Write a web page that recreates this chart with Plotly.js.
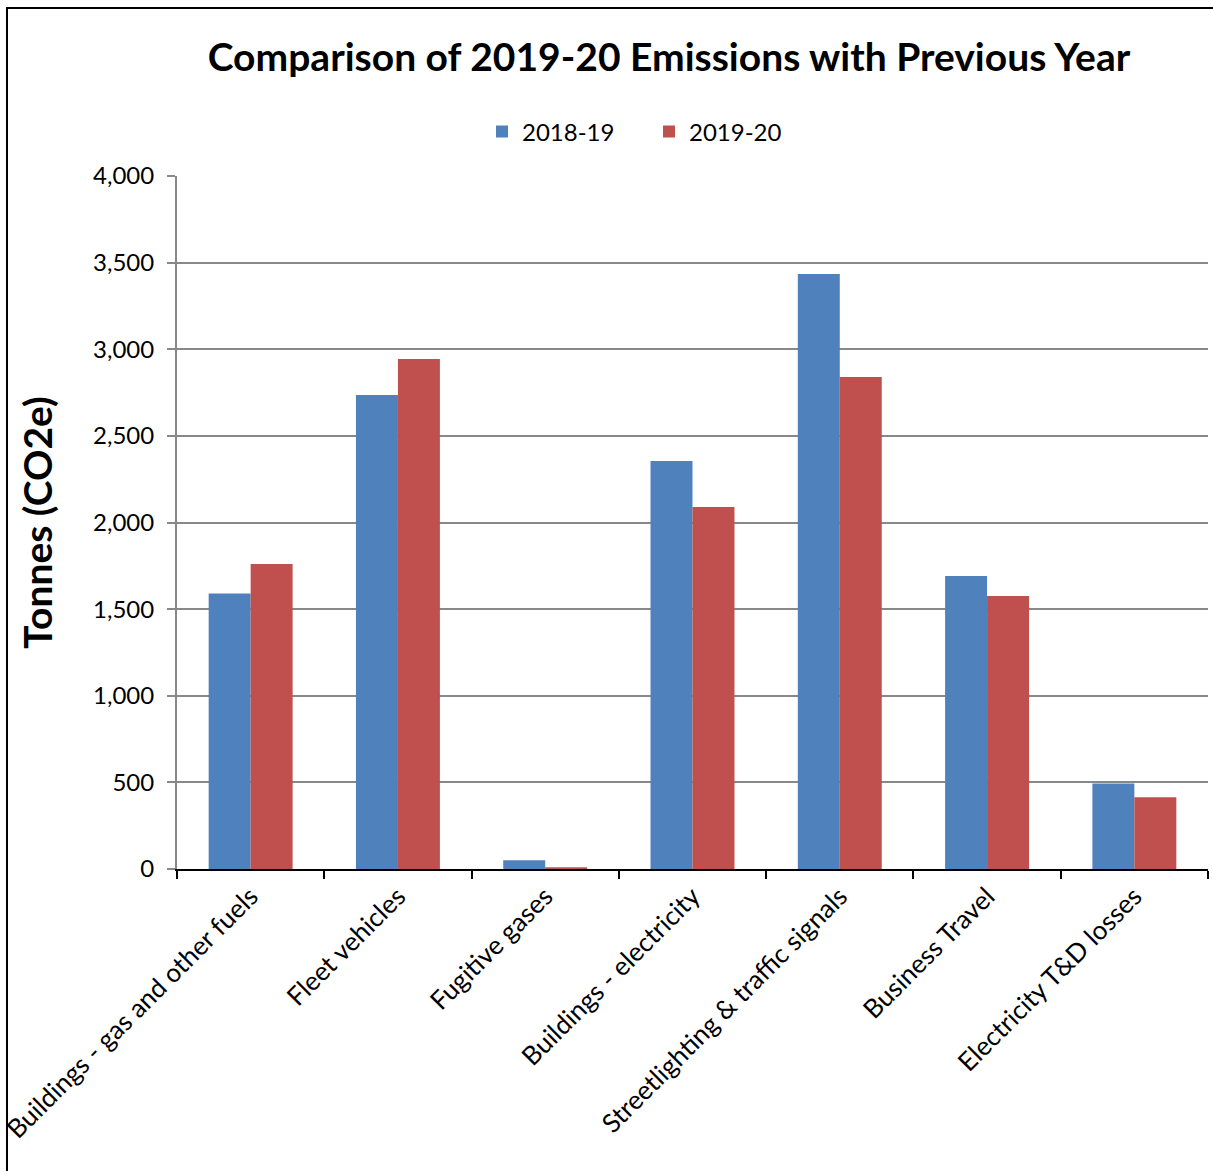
<!DOCTYPE html>
<html>
<head>
<meta charset="utf-8">
<script src="https://cdn.plot.ly/plotly-3.0.1.min.js"></script>
<style>html,body{margin:0;padding:0;background:#fff;}#chart{width:1213px;height:1171px;}</style>
</head>
<body>
<div id="chart"></div>
<script>
const categories = [
  "Buildings - gas and other fuels",
  "Fleet vehicles",
  "Fugitive gases",
  "Buildings - electricity",
  "Streetlighting & traffic signals",
  "Business Travel",
  "Electricity T&D losses"
];
const values2018_19 = [1590, 2736, 50, 2355, 3434, 1691, 494];
const values2019_20 = [1760, 2944, 10, 2089, 2840, 1576, 414];
const seriesNames = ["2018-19", "2019-20"];
const yTickValues = [0, 500, 1000, 1500, 2000, 2500, 3000, 3500, 4000];
const yTickLabels = ["0", "500", "1,000", "1,500", "2,000", "2,500", "3,000", "3,500", "4,000"];

const FONT = "Lato, 'Open Sans', sans-serif";

const data = [
  {type: "bar", name: seriesNames[0], x: categories, y: values2018_19,
   marker: {color: "#4F81BD", line: {width: 0}}},
  {type: "bar", name: seriesNames[1], x: categories, y: values2019_20,
   marker: {color: "#C0504D", line: {width: 0}}}
];

const plotL = 177, plotR = 1208, plotT = 176, plotB = 869, W = 1213, H = 1171;
const pw = plotR - plotL, ph = plotB - plotT;
const px = v => (v - plotL) / pw;
const py = v => (plotB - v) / ph;

const layout = {
  width: W, height: H,
  margin: {l: plotL, r: W - plotR, t: plotT, b: H - plotB, pad: 0},
  paper_bgcolor: "#fff", plot_bgcolor: "#fff",
  font: {family: FONT, size: 20, color: "#000"},
  title: {text: "<b>Comparison of 2019-20 Emissions with Previous Year</b>",
          font: {family: FONT, size: 39, color: "#000"},
          xref: "paper", x: px(669), xanchor: "center",
          yref: "container", y: 1 - 57 / H, yanchor: "middle"},
  barmode: "group", bargap: 0.43, bargroupgap: 0,
  showlegend: true,
  legend: {orientation: "h", x: px(649), xanchor: "center", y: py(132), yanchor: "middle",
           font: {family: FONT, size: 24, color: "#000"}, itemwidth: 30, entrywidth: 122,
           traceorder: "normal"},
  xaxis: {type: "category", showline: true, linecolor: "#000", linewidth: 2,
          ticks: "outside", tickson: "boundaries", ticklen: 8, tickwidth: 2, tickcolor: "#000",
          tickangle: -45, tickfont: {family: FONT, size: 26, color: "#000"},
          showgrid: false, automargin: false},
  yaxis: {range: [0, 4000], tickvals: yTickValues, ticktext: yTickLabels,
          showline: true, linecolor: "#888", linewidth: 2,
          ticks: "outside", ticklen: 8, tickwidth: 2, tickcolor: "#888",
          ticklabelstandoff: 8,
          showgrid: true, gridcolor: "#888", gridwidth: 2, zeroline: false,
          tickfont: {family: FONT, size: 24, color: "#000"},
          title: {text: "<b>Tonnes (CO2e)</b>", font: {family: FONT, size: 39, color: "#000"}, standoff: 28},
          automargin: false},
  shapes: [
    {type: "rect", xref: "paper", yref: "paper",
     x0: px(7), x1: px(1230), y0: py(1190), y1: py(8),
     line: {color: "#000", width: 2}, fillcolor: "rgba(0,0,0,0)", layer: "below"}
  ]
};

Plotly.newPlot("chart", data, layout, {displayModeBar: false, staticPlot: true});
</script>
</body>
</html>
